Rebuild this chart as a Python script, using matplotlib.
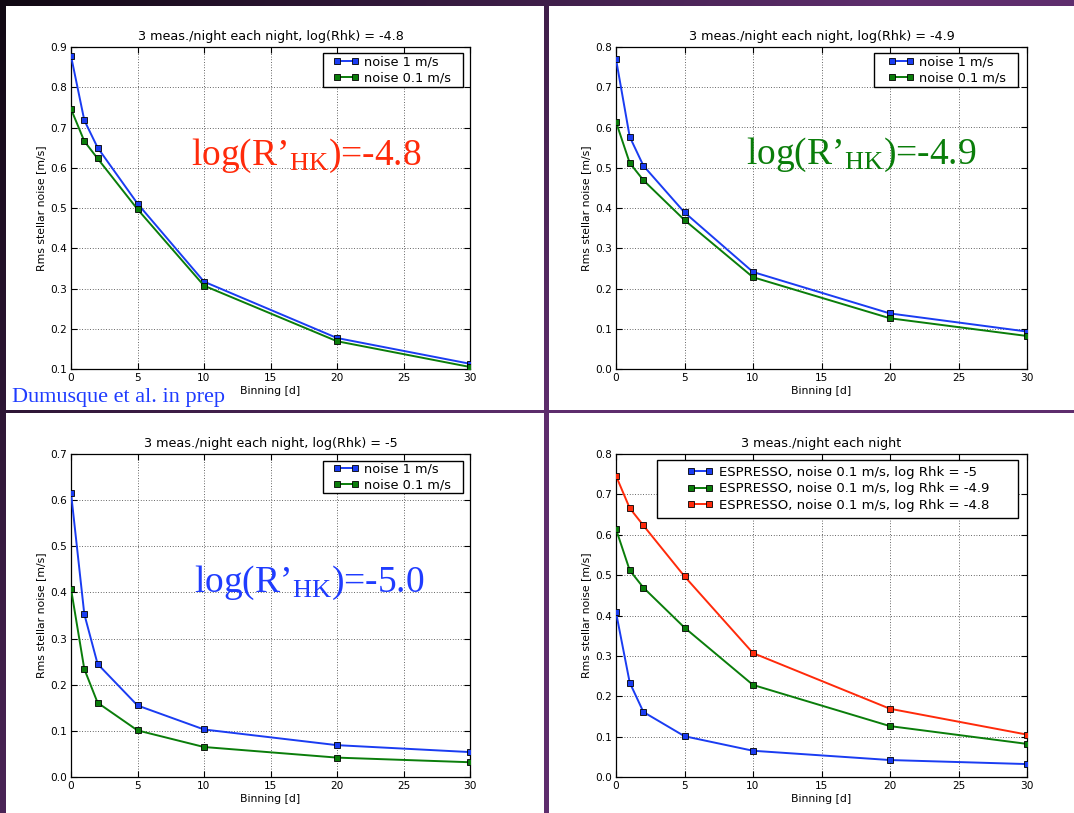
import numpy as np
import matplotlib
matplotlib.use("Agg")
import matplotlib.pyplot as plt
from matplotlib.patches import Rectangle
from matplotlib.ticker import FormatStrFormatter

# ---------------------------------------------------------------- data
binning = [0, 1, 2, 5, 10, 20, 30]

rms_48_noise1 = [0.878, 0.718, 0.650, 0.511, 0.317, 0.177, 0.113]
rms_48_noise01 = [0.746, 0.666, 0.623, 0.497, 0.307, 0.169, 0.105]
rms_49_noise1 = [0.770, 0.577, 0.505, 0.389, 0.241, 0.138, 0.093]
rms_49_noise01 = [0.614, 0.512, 0.469, 0.370, 0.228, 0.126, 0.082]
rms_50_noise1 = [0.616, 0.353, 0.245, 0.155, 0.103, 0.069, 0.054]
rms_50_noise01 = [0.408, 0.234, 0.161, 0.101, 0.065, 0.042, 0.032]

noise_labels = ["noise 1 m/s", "noise 0.1 m/s"]
espresso_labels = ["ESPRESSO, noise 0.1 m/s, log Rhk = -5",
                   "ESPRESSO, noise 0.1 m/s, log Rhk = -4.9",
                   "ESPRESSO, noise 0.1 m/s, log Rhk = -4.8"]
titles = ["3 meas./night each night, log(Rhk) = -4.8",
          "3 meas./night each night, log(Rhk) = -4.9",
          "3 meas./night each night, log(Rhk) = -5",
          "3 meas./night each night"]
big_labels = ["log(R\u2019$_{\\mathrm{HK}}$)=-4.8",
              "log(R\u2019$_{\\mathrm{HK}}$)=-4.9",
              "log(R\u2019$_{\\mathrm{HK}}$)=-5.0"]
credit = "Dumusque et al. in prep"

# ---------------------------------------------------------------- style
BLUE = "#1a3cf2"
GREEN = "#0a7d0a"
RED = "#ff2a0a"

plt.rcParams["font.family"] = "DejaVu Sans"
plt.rcParams["mathtext.fontset"] = "custom"
plt.rcParams["mathtext.rm"] = "Liberation Serif"
plt.rcParams["mathtext.it"] = "Liberation Serif:italic"

W, H = 1074, 813
fig = plt.figure(figsize=(W / 100, H / 100), dpi=100)

# slide background: dark-to-purple gradient with four white panels
bg = fig.add_axes([0, 0, 1, 1], zorder=-10)
gx, gy = np.meshgrid(np.linspace(0, 1, 300), np.linspace(0, 1, 300))
t = np.clip(1.2 * gx + 0.75 * gy, 0, 1)[..., None]
dark = np.array([0.06, 0.03, 0.07])
purple = np.array([0.37, 0.18, 0.43])
bg.imshow(dark + (purple - dark) * t, extent=(0, W, H, 0), aspect="auto")
for (px, py, pw, ph) in [(6, 6, 538, 404), (549, 6, 525, 404),
                         (6, 413, 538, 400), (549, 413, 525, 400)]:
    bg.add_patch(Rectangle((px, py), pw, ph, facecolor="white", edgecolor="none"))
bg.set_xlim(0, W)
bg.set_ylim(H, 0)
bg.axis("off")


def panel(left, top, right, bottom):
    return fig.add_axes([left / W, 1 - bottom / H, (right - left) / W, (bottom - top) / H])


def style(ax, ylim, title):
    ax.set_xlim(0, 30)
    ax.set_ylim(*ylim)
    ax.set_xticks(range(0, 31, 5))
    ax.set_yticks(np.arange(ylim[0], ylim[1] + 1e-9, 0.1))
    ax.yaxis.set_major_formatter(FormatStrFormatter("%.1f"))
    ax.grid(True, color="0.2", linestyle=(0, (1, 2.2)), linewidth=0.6)
    ax.tick_params(direction="in", top=True, right=True, length=4, width=0.8,
                   labelsize=7.6, pad=3)
    for s in ax.spines.values():
        s.set_linewidth(0.9)
    ax.set_title(title, fontsize=9.2, pad=5)
    ax.set_xlabel("Binning [d]", fontsize=7.8, labelpad=2)
    ax.set_ylabel("Rms stellar noise [m/s]", fontsize=7.8, labelpad=3)


def curve(ax, y, color, label):
    ax.plot(binning, y, "-s", color=color, lw=1.4, ms=4.6, mfc=color,
            mec="k", mew=0.6, label=label, zorder=3)


def boxed_legend(ax, center, box, fontsize):
    """Legend entries centred on `center`, framed by `box` (axes fractions)."""
    ax.legend(loc="center", bbox_to_anchor=center, numpoints=2, frameon=False,
              fontsize=fontsize, handlelength=2.0, labelspacing=0.25,
              handletextpad=0.45, borderpad=0.0)
    x0, y0, x1, y1 = box
    ax.add_patch(Rectangle((x0, y0), x1 - x0, y1 - y0, transform=ax.transAxes,
                           facecolor="white", edgecolor="k", lw=1.0, zorder=4.5))


# top left: log R'HK = -4.8
ax1 = panel(71, 47, 470, 369)
curve(ax1, rms_48_noise1, BLUE, noise_labels[0])
curve(ax1, rms_48_noise01, GREEN, noise_labels[1])
style(ax1, (0.1, 0.9), titles[0])
boxed_legend(ax1, (0.8045, 0.9286), (0.6316, 0.8758, 0.9825, 0.9814), 9.3)

# top right: log R'HK = -4.9
ax2 = panel(616, 47, 1027, 369)
curve(ax2, rms_49_noise1, BLUE, noise_labels[0])
curve(ax2, rms_49_noise01, GREEN, noise_labels[1])
style(ax2, (0.0, 0.8), titles[1])
boxed_legend(ax2, (0.8054, 0.9286), (0.6277, 0.8758, 0.978, 0.9814), 9.3)

# bottom left: log R'HK = -5.0
ax3 = panel(71, 454, 470, 777)
curve(ax3, rms_50_noise1, BLUE, noise_labels[0])
curve(ax3, rms_50_noise01, GREEN, noise_labels[1])
style(ax3, (0.0, 0.7), titles[2])
boxed_legend(ax3, (0.8045, 0.9288), (0.6316, 0.8793, 0.9825, 0.9783), 9.3)

# bottom right: all activity levels at 0.1 m/s noise
ax4 = panel(616, 454, 1027, 777)
curve(ax4, rms_50_noise01, BLUE, espresso_labels[0])
curve(ax4, rms_49_noise01, GREEN, espresso_labels[1])
curve(ax4, rms_48_noise01, RED, espresso_labels[2])
style(ax4, (0.0, 0.8), titles[3])
boxed_legend(ax4, (0.54, 0.892), (0.0998, 0.802, 0.978, 0.9815), 9.5)

# large annotations
serif = "Liberation Serif"
fig.text(191 / W, 1 - 165 / H, big_labels[0], color=RED, fontsize=27,
         family=serif, va="baseline")
fig.text(746 / W, 1 - 164 / H, big_labels[1], color=GREEN, fontsize=27,
         family=serif, va="baseline")
fig.text(194 / W, 1 - 592 / H, big_labels[2], color="#1f3cff", fontsize=27,
         family=serif, va="baseline")
fig.text(12 / W, 1 - 402 / H, credit, color="#1f3cff", fontsize=16,
         family=serif, va="baseline")

fig.savefig("out.png", dpi=100)
